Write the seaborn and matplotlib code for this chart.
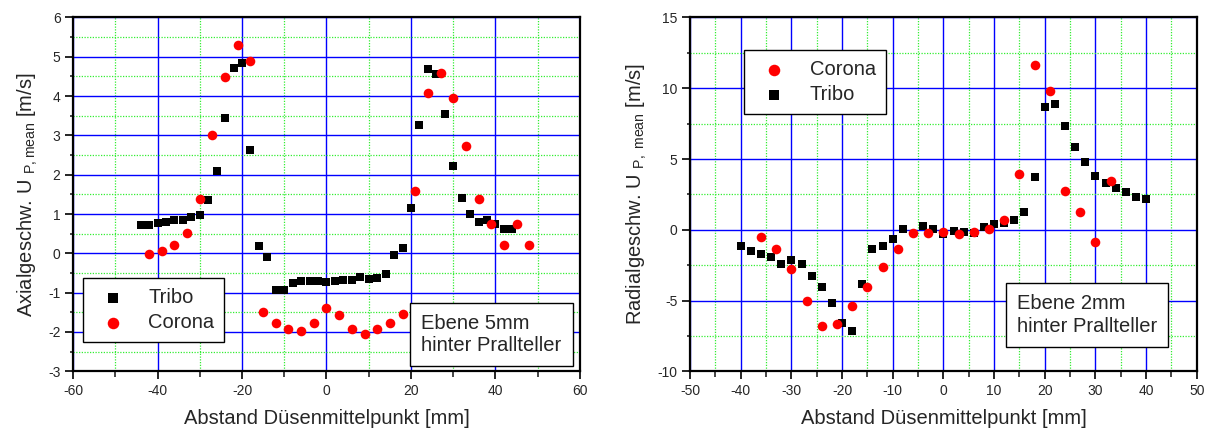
import numpy as np
import pandas as pd
import matplotlib
matplotlib.use("Agg")
import matplotlib.pyplot as plt
from matplotlib.ticker import MultipleLocator
import seaborn as sns

# ---- Ebene 5 mm hinter Prallteller: axial velocity ----
axial_tribo_x = [-44, -42, -40, -38, -36, -34, -32, -30, -28, -26, -24, -22, -20, -18,
                 -16, -14, -12, -10, -8, -6, -4, -2, 0, 2, 4, 6, 8, 10, 12, 14, 16, 18,
                 20, 22, 24, 26, 28, 30, 32, 34, 36, 38, 40, 42, 44]
axial_tribo_u = [0.73, 0.71, 0.77, 0.80, 0.86, 0.86, 0.93, 0.97, 1.36, 2.10, 3.45, 4.71,
                 4.84, 2.62, 0.18, -0.09, -0.94, -0.94, -0.76, -0.70, -0.71, -0.70, -0.74,
                 -0.71, -0.68, -0.68, -0.61, -0.65, -0.63, -0.53, -0.03, 0.13, 1.16, 3.26,
                 4.68, 4.57, 3.54, 2.22, 1.40, 0.99, 0.80, 0.84, 0.74, 0.61, 0.61]

axial_corona_x = [-42, -39, -36, -33, -30, -27, -24, -21, -18, -15, -12, -9, -6, -3, 0,
                  3, 6, 9, 12, 15, 18, 21, 24, 27, 30, 33, 36, 39, 42, 45, 48]
axial_corona_u = [-0.02, 0.07, 0.22, 0.51, 1.39, 3.02, 4.49, 5.30, 4.90, -1.49, -1.78,
                  -1.93, -1.98, -1.78, -1.39, -1.58, -1.92, -2.04, -1.92, -1.76, -1.55,
                  1.59, 4.08, 4.58, 3.95, 2.73, 1.39, 0.74, 0.22, 0.74, 0.22]

# ---- Ebene 2 mm hinter Prallteller: radial velocity ----
radial_tribo_x = [-40, -38, -36, -34, -32, -30, -28, -26, -24, -22, -20, -18, -16, -14,
                  -12, -10, -8, -4, -2, 0, 2, 4, 6, 8, 10, 12, 14, 16, 18, 20, 22, 24,
                  26, 28, 30, 32, 34, 36, 38, 40]
radial_tribo_u = [-1.13, -1.51, -1.72, -1.93, -2.45, -2.12, -2.40, -3.28, -4.03, -5.14,
                  -6.60, -7.15, -3.82, -1.39, -1.13, -0.64, 0.05, 0.28, 0.05, -0.33,
                  -0.07, -0.14, -0.26, 0.19, 0.38, 0.45, 0.69, 1.27, 3.75, 8.70, 8.92,
                  7.34, 5.83, 4.79, 3.82, 3.33, 2.97, 2.66, 2.34, 2.20]

radial_corona_x = [-36, -33, -30, -27, -24, -21, -18, -15, -12, -9, -6, -3, 0, 3, 6, 9,
                   12, 15, 18, 21, 24, 27, 30, 33]
radial_corona_u = [-0.50, -1.37, -2.76, -5.02, -6.79, -6.65, -5.42, -4.05, -2.66, -1.37,
                   -0.23, -0.21, -0.19, -0.30, -0.19, 0.07, 0.66, 3.96, 11.61, 9.79,
                   2.76, 1.27, -0.87, 3.45]

xlabel = "Abstand Düsenmittelpunkt [mm]"
ylabel_axial = r"Axialgeschw. U $_{\mathrm{P,mean}}$ [m/s]"
ylabel_radial = r"Radialgeschw. U $_{\mathrm{P,\ mean}}$ [m/s]"
note_axial = "Ebene 5mm\nhinter Prallteller"
note_radial = "Ebene 2mm\nhinter Prallteller"

sns.set_style("white")
plt.rcParams["font.family"] = ["Liberation Sans", "DejaVu Sans"]
plt.rcParams["mathtext.fontset"] = "custom"
plt.rcParams["mathtext.rm"] = "Liberation Sans"
plt.rcParams["mathtext.it"] = "Liberation Sans:italic"
plt.rcParams["mathtext.bf"] = "Liberation Sans:bold"
plt.rcParams["axes.unicode_minus"] = False

FS = 14.5
SQ = dict(marker="s", color="black", s=38, linewidth=0)
CI = dict(marker="o", color="#ff0000", s=48, linewidth=0)
LEG = dict(borderaxespad=0, fontsize=FS, frameon=True, fancybox=False,
           edgecolor="black", framealpha=1, handlelength=2.0, handletextpad=0.75,
           borderpad=0.5, labelspacing=0.3, markerscale=1.2)

fig = plt.figure(figsize=(12.07, 4.33), dpi=100)
ax1 = fig.add_axes([0.0605, 0.1425, 0.42, 0.8171])
ax2 = fig.add_axes([0.5717, 0.1425, 0.4198, 0.8171])


def style_axes(ax, xlim, ylim, xmaj, xmin, ymaj, ymin):
    ax.set_xlim(*xlim)
    ax.set_ylim(*ylim)
    ax.xaxis.set_major_locator(MultipleLocator(xmaj))
    ax.xaxis.set_minor_locator(MultipleLocator(xmin))
    ax.yaxis.set_major_locator(MultipleLocator(ymaj))
    ax.yaxis.set_minor_locator(MultipleLocator(ymin))
    ax.set_axisbelow(True)
    ax.grid(which="major", color="#0000ff", linewidth=1.0, linestyle="-")
    ax.grid(which="minor", color="#33ee33", linewidth=0.9, linestyle=(0, (1, 1.2)))
    for sp in ax.spines.values():
        sp.set_visible(True)
        sp.set_color("black")
        sp.set_linewidth(1.6)
    ax.tick_params(which="major", direction="out", length=5.5, width=1.2,
                   labelsize=10, color="black", pad=3.5, bottom=True, left=True)
    ax.tick_params(axis="x", which="minor", direction="out", length=4.5, width=1.2,
                   bottom=True)
    ax.tick_params(axis="y", which="minor", direction="out", length=2.5, width=1.2,
                   left=True)
    ax.set_xlabel(xlabel, fontsize=FS, labelpad=8)


def note(ax, x, y, txt):
    ax.text(x, y, txt, transform=ax.transAxes, fontsize=FS, ha="left", va="bottom",
            linespacing=1.25,
            bbox=dict(boxstyle="square,pad=0.55", facecolor="white",
                      edgecolor="black", linewidth=1.0), zorder=5)


# left panel
sns.scatterplot(x=axial_tribo_x, y=axial_tribo_u, ax=ax1, label="Tribo", zorder=3, **SQ)
sns.scatterplot(x=axial_corona_x, y=axial_corona_u, ax=ax1, label="Corona", zorder=3, **CI)
style_axes(ax1, (-60, 60), (-3, 6), 20, 10, 1, 0.5)
ax1.set_ylabel(ylabel_axial, fontsize=FS, labelpad=6)
h, l = ax1.get_legend_handles_labels()
ax1.legend(h, l, loc="lower left", bbox_to_anchor=(0.019, 0.082),
           **LEG).get_frame().set_linewidth(1.0)
note(ax1, 0.687, 0.045, note_axial)

# right panel
sns.scatterplot(x=radial_tribo_x, y=radial_tribo_u, ax=ax2, label="Tribo", zorder=3, **SQ)
sns.scatterplot(x=radial_corona_x, y=radial_corona_u, ax=ax2, label="Corona", zorder=3, **CI)
style_axes(ax2, (-50, 50), (-10, 15), 10, 5, 5, 2.5)
ax2.set_ylabel(ylabel_radial, fontsize=FS, labelpad=6)
h, l = ax2.get_legend_handles_labels()
ax2.legend(h[::-1], l[::-1], loc="upper left", bbox_to_anchor=(0.107, 0.908),
           **LEG).get_frame().set_linewidth(1.0)
note(ax2, 0.645, 0.1, note_radial)

fig.savefig("out.png", dpi=100)
